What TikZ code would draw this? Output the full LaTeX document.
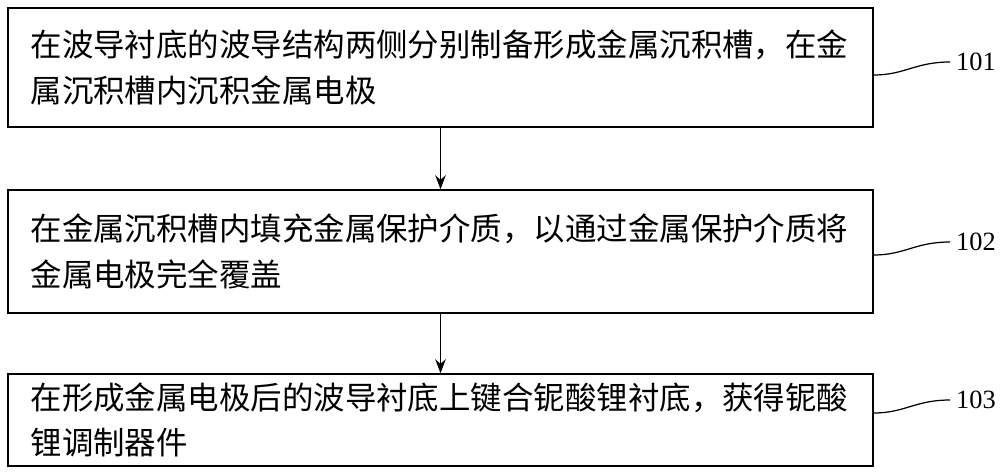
\documentclass[tikz,border=0pt]{standalone}
\usepackage{fontspec}
\setmainfont{Liberation Serif}
\newfontfamily\cjk{Noto Sans CJK SC}
\usetikzlibrary{arrows.meta}

\begin{document}
\begin{tikzpicture}[x=0.02cm,y=-0.02cm,
  stepbox/.style={draw,line width=0.8pt,minimum width=17.3cm,text width=16.4cm,align=left,font=\cjk\fontsize{17.9}{26}\selectfont},
  numlabel/.style={font=\fontsize{15}{18}\selectfont},
  flow/.style={-{Stealth[length=8pt,width=6pt]},line width=0.8pt}]
\useasboundingbox (0,0) rectangle (1000,474);
\node[stepbox,minimum height=2.38cm] (S1) at (440.5,67.5) {在波导衬底的波导结构两侧分别制备形成金属沉积槽，在金\\属沉积槽内沉积金属电极};
\node[stepbox,minimum height=2.46cm] (S2) at (440.5,251.5) {在金属沉积槽内填充金属保护介质，以通过金属保护介质将\\金属电极完全覆盖};
\node[stepbox,minimum height=1.84cm] (S3) at (440.5,420) {在形成金属电极后的波导衬底上键合铌酸锂衬底，获得铌酸\\锂调制器件};
\node[numlabel,anchor=west] (L1) at (950,62) {101};
\node[numlabel,anchor=west] (L2) at (950,242) {102};
\node[numlabel,anchor=west] (L3) at (950,400) {103};
\draw[flow] (S1) -- (S2);
\draw[flow] (S2) -- (S3);
\draw[line width=0.7pt] (S1.east |- 0,75) .. controls (905,75) and (915,62) .. (L1.west);
\draw[line width=0.7pt] (S2.east |- 0,255) .. controls (905,255) and (915,242) .. (L2.west);
\draw[line width=0.7pt] (S3.east |- 0,413) .. controls (905,413) and (915,400) .. (L3.west);
\end{tikzpicture}
\end{document}
